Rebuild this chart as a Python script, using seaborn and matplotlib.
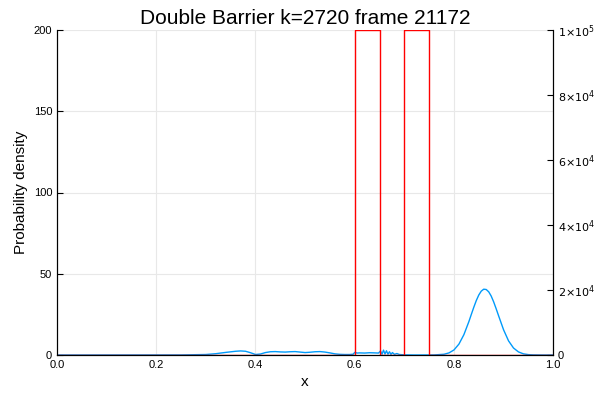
import numpy as np
import pandas as pd
import matplotlib
matplotlib.use("Agg")
import matplotlib.pyplot as plt
import seaborn as sns

# probability density
density_x = [0.0, 0.25, 0.30, 0.32, 0.34, 0.36, 0.37, 0.38, 0.39, 0.40,
             0.41, 0.42, 0.43, 0.44, 0.45, 0.46, 0.47, 0.48, 0.49, 0.50,
             0.51, 0.52, 0.53, 0.54, 0.55, 0.56, 0.57, 0.58, 0.59, 0.597,
             0.600, 0.605, 0.61, 0.62, 0.63, 0.64, 0.648,
             0.652, 0.655, 0.658, 0.661, 0.664, 0.667, 0.670, 0.673, 0.676,
             0.680, 0.685, 0.690, 0.70, 0.72, 0.76, 0.78, 0.79,
             0.80, 0.81, 0.82, 0.83, 0.835, 0.84, 0.845, 0.85, 0.855, 0.86,
             0.865, 0.87, 0.875, 0.88, 0.885, 0.89,
             0.90, 0.91, 0.92, 0.93, 0.94, 0.95, 0.96, 0.98, 1.0]
density_y = [0.0, 0.05, 0.3, 0.8, 1.6, 2.3, 2.5, 2.3, 1.4, 0.3,
             0.6, 1.5, 2.0, 2.1, 1.9, 1.8, 2.0, 2.1, 1.8, 1.5,
             1.7, 2.0, 2.1, 1.8, 1.3, 0.7, 0.4, 0.3, 0.3, 0.5,
             1.6, 1.2, 1.3, 1.2, 1.4, 1.3, 1.2,
             2.5, 0.5, 3.0, 0.6, 2.6, 0.5, 2.0, 0.4, 1.5,
             0.4, 0.9, 0.3, 0.1, 0.0, 0.04, 0.46, 1.3,
             3.1, 6.7, 12.5, 20.5, 25.0, 29.4, 33.5, 36.9, 39.3, 40.5,
             40.3, 38.9, 36.3, 32.7, 28.5, 24.1,
             15.5, 8.7, 4.3, 1.9, 0.7, 0.23, 0.07, 0.0, 0.0]

# double barrier potential
potential_x = [0.0, 0.6, 0.6, 0.65, 0.65, 0.7, 0.7, 0.75, 0.75, 1.0]
potential_v = [0, 0, 1e5, 1e5, 0, 0, 1e5, 1e5, 0, 0]

sns.set_style("white")
plt.rcParams["font.family"] = ["Liberation Sans", "DejaVu Sans"]
plt.rcParams["text.color"] = "black"
plt.rcParams["axes.labelcolor"] = "black"
plt.rcParams["xtick.color"] = "black"
plt.rcParams["ytick.color"] = "black"

dens = pd.DataFrame({"x": density_x, "y": density_y})
pot = pd.DataFrame({"x": potential_x, "v": potential_v})

fig = plt.figure(figsize=(6, 4), dpi=100)
ax = fig.add_axes([0.095, 0.1125, 0.827, 0.8125])
ax2 = ax.twinx()

sns.lineplot(data=dens, x="x", y="y", ax=ax, color="#009AFA", lw=1.0,
             sort=False, estimator=None)
sns.lineplot(data=pot, x="x", y="v", ax=ax2, color="red", lw=1.0,
             sort=False, estimator=None)

ax.set_xlim(0, 1)
ax.set_ylim(0, 200)
ax2.set_ylim(0, 1e5)
ax.set_xticks([0.0, 0.2, 0.4, 0.6, 0.8, 1.0])
ax.set_xticklabels(["0.0", "0.2", "0.4", "0.6", "0.8", "1.0"])
ax.set_yticks([0, 50, 100, 150, 200])
ax2.set_yticks([0, 2e4, 4e4, 6e4, 8e4, 1e5])
ax2.set_yticklabels(["0", r"$2{\times}10^{4}$", r"$4{\times}10^{4}$",
                     r"$6{\times}10^{4}$", r"$8{\times}10^{4}$",
                     r"$1{\times}10^{5}$"])
ax.grid(True, color="#e8e8e8", lw=0.8)
ax.tick_params(direction="in", length=4, labelsize=8, width=0.8)
ax2.tick_params(direction="in", length=4, labelsize=8, width=0.8)

for a in (ax, ax2):
    a.spines["top"].set_visible(False)
    for s in ("left", "right", "bottom"):
        a.spines[s].set_color("black")
        a.spines[s].set_linewidth(0.8)

ax.set_xlabel("x", fontsize=11)
ax.set_ylabel("Probability density", fontsize=11)
ax2.set_ylabel("")
ax.set_title("Double Barrier k=2720 frame 21172", fontsize=15, pad=4)

fig.savefig("out.png", dpi=100)
